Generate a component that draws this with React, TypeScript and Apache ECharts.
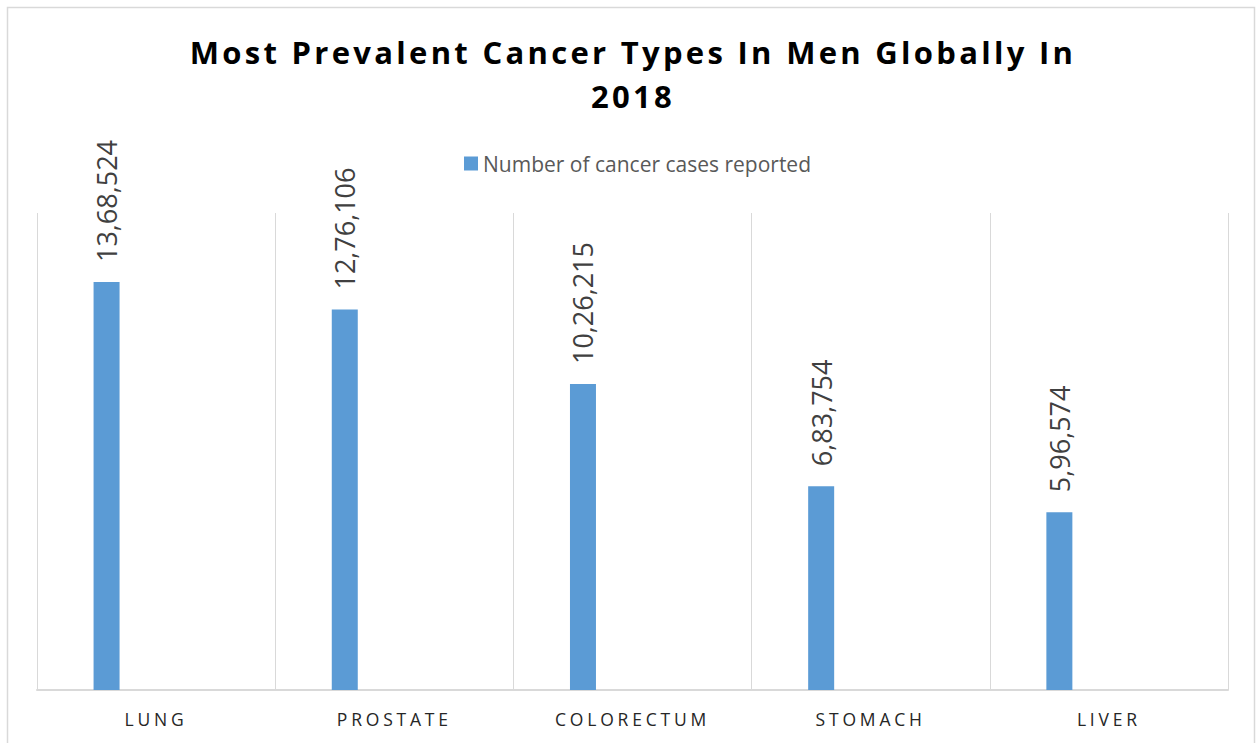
import React, { useEffect, useRef } from "react";
import * as echarts from "echarts";

// Cancer types (x axis) and reported cases for men, 2018
const categories = ["LUNG", "PROSTATE", "COLORECTUM", "STOMACH", "LIVER"];
const cases = [1368524, 1276106, 1026215, 683754, 596574];
// Second (empty) series slot, as in the original two-series layout
const emptySlot = categories.map(() => null);

const titleLines = ["Most Prevalent Cancer Types In Men Globally In", "2018"];
const seriesName = "Number of cancer cases reported";

const FONT = "'Open Sans', 'Noto Sans', sans-serif";

// Indian digit grouping: 13,68,524
function indianFormat(n: number): string {
  const s = String(Math.round(n));
  if (s.length <= 3) return s;
  const last3 = s.slice(-3);
  let rest = s.slice(0, -3);
  const parts: string[] = [];
  while (rest.length > 2) {
    parts.unshift(rest.slice(-2));
    rest = rest.slice(0, -2);
  }
  if (rest) parts.unshift(rest);
  return parts.join(",") + "," + last3;
}

export default function App() {
  const ref = useRef<HTMLDivElement>(null);

  useEffect(() => {
    document.body.style.margin = "0";
    const el = ref.current!;
    const chart = echarts.init(el, undefined, { renderer: "svg" });

    chart.setOption({
      animation: false,
      backgroundColor: "#ffffff",
      grid: { left: 37, right: 29, top: 213, bottom: 53 },
      legend: {
        data: [seriesName],
        left: 464,
        top: 153,
        padding: 0,
        itemWidth: 14,
        itemHeight: 14,
        icon: "rect",
        itemGap: 6,
        textStyle: { fontFamily: FONT, fontSize: 21, color: "#595959" },
      },
      xAxis: {
        type: "category",
        data: categories,
        boundaryGap: true,
        axisTick: { show: false },
        axisLine: { show: true, lineStyle: { color: "#d9d9d9", width: 2 } },
        splitLine: { show: true, lineStyle: { color: "#d9d9d9", width: 1 } },
        axisLabel: {
          fontFamily: FONT,
          fontSize: 17.5,
          color: "#262626",
          margin: 20,
        },
      },
      yAxis: {
        type: "value",
        min: 0,
        max: 1600000,
        show: true,
        axisLine: { show: false },
        axisTick: { show: false },
        axisLabel: { show: false },
        splitLine: { show: false },
      },
      series: [
        {
          name: seriesName,
          type: "bar",
          data: cases,
          barWidth: 26,
          barGap: "281%",
          itemStyle: { color: "#5b9bd5" },
          label: {
            show: true,
            position: "top",
            rotate: 90,
            align: "left",
            verticalAlign: "middle",
            distance: 20,
            fontFamily: FONT,
            fontSize: 27,
            color: "#404040",
            formatter: (p: any) => indianFormat(p.value),
          },
        },
        {
          name: "empty",
          type: "bar",
          data: emptySlot,
          barWidth: 26,
          itemStyle: { color: "#ed7d31" },
        },
      ],
      graphic: [
        {
          type: "rect",
          z: -1,
          shape: { x: 7.5, y: 7.5, width: 1247, height: 760 },
          style: { fill: "transparent", stroke: "#d9d9d9", lineWidth: 1.5 },
          silent: true,
        },
        {
          type: "text",
          x: 633,
          y: 67,
          style: {
            text: titleLines[0],
            fontFamily: FONT,
            fontWeight: "bold",
            fontSize: 31,
            fill: "#000000",
            textAlign: "center",
            textVerticalAlign: "bottom",
          },
        },
        {
          type: "text",
          x: 633,
          y: 111,
          style: {
            text: titleLines[1],
            fontFamily: FONT,
            fontWeight: "bold",
            fontSize: 31,
            fill: "#000000",
            textAlign: "center",
            textVerticalAlign: "bottom",
          },
        },
      ],
    });

    // Spaced-out lettering for the title and the category labels
    const spacing = new Map<string, string>();
    titleLines.forEach((t) => spacing.set(t, "3.3"));
    categories.forEach((c) => spacing.set(c, "3.8"));
    const applySpacing = () => {
      el.querySelectorAll("text").forEach((t) => {
        const s = spacing.get((t.textContent || "").trim());
        if (s) t.setAttribute("letter-spacing", s);
      });
    };
    applySpacing();
    chart.on("finished", applySpacing);

    return () => {
      chart.dispose();
    };
  }, []);

  return (
    <div
      ref={ref}
      style={{ position: "absolute", left: 0, top: 0, width: 1257, height: 743 }}
    />
  );
}
